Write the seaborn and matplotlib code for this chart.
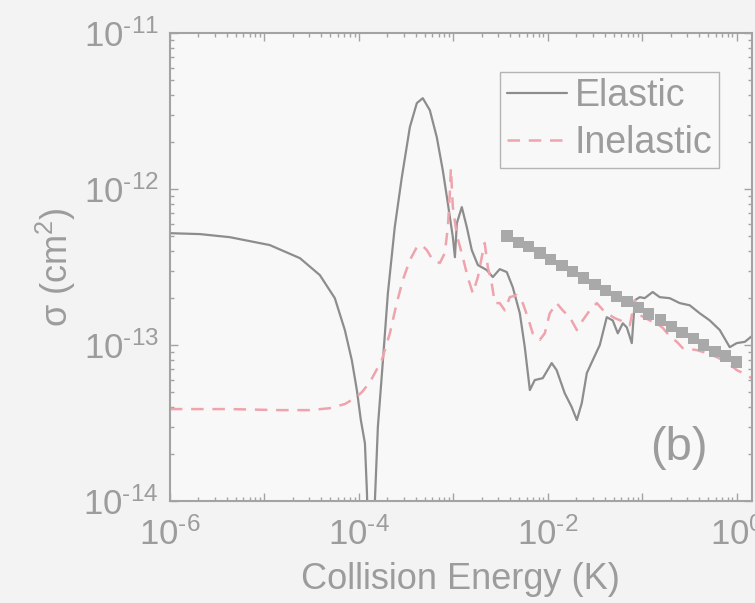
import numpy as np
import pandas as pd
import seaborn as sns
import matplotlib.pyplot as plt
import matplotlib.ticker as mticker

# elastic cross section
el_E = [1.0e-6, 2.08e-6, 4.31e-6, 1.14e-5, 2.38e-5, 3.87e-5, 5.57e-5, 7.11e-5, 8.43e-5,
        9.53e-5, 1.05e-4, 1.16e-4, 1.22e-4, 1.34e-4, 1.48e-4, 1.59e-4, 1.80e-4, 2.03e-4,
        2.40e-4, 2.85e-4, 3.47e-4, 4.11e-4, 4.75e-4, 5.64e-4, 6.69e-4, 7.74e-4, 8.75e-4,
        9.89e-4, 1.04e-3, 1.09e-3, 1.23e-3, 1.39e-3, 1.57e-3, 1.82e-3, 2.26e-3, 2.62e-3,
        3.10e-3, 3.68e-3, 4.26e-3, 5.06e-3, 5.71e-3, 6.46e-3, 7.28e-3, 8.85e-3, 1.10e-2,
        1.24e-2, 1.51e-2, 1.79e-2, 2.03e-2, 2.29e-2, 2.59e-2, 2.99e-2, 3.55e-2, 4.21e-2,
        4.87e-2, 5.51e-2, 6.22e-2, 6.86e-2, 7.75e-2, 8.34e-2, 9.42e-2, 0.106, 0.129,
        0.153, 0.195, 0.249, 0.318, 0.406, 0.518, 0.661, 0.843, 1.0, 1.22, 1.44]
el_sigma = [5.22e-13, 5.15e-13, 4.92e-13, 4.38e-13, 3.61e-13, 2.81e-13, 2.00e-13, 1.25e-13, 8.0e-14,
            5.15e-14, 3.31e-14, 2.35e-14, 1.12e-14, 1.0e-15, 1.01e-14, 2.98e-14, 8.0e-14, 2.15e-13,
            5.70e-13, 1.19e-12, 2.50e-12, 3.56e-12, 3.83e-12, 3.21e-12, 2.15e-12, 1.32e-12, 8.13e-13,
            4.92e-13, 3.66e-13, 6.05e-13, 7.67e-13, 5.70e-13, 4.06e-13, 3.26e-13, 3.03e-13, 2.73e-13,
            3.07e-13, 2.94e-13, 2.35e-13, 1.60e-13, 9.7e-14, 5.15e-14, 5.97e-14, 6.14e-14, 7.67e-14,
            6.92e-14, 4.92e-14, 4.01e-14, 3.31e-14, 4.25e-14, 6.62e-14, 8.0e-14, 1.0e-13, 1.51e-13,
            1.44e-13, 1.19e-13, 1.38e-13, 1.30e-13, 1.03e-13, 1.94e-13, 2.03e-13, 2.00e-13, 2.19e-13,
            2.03e-13, 2.00e-13, 1.86e-13, 1.80e-13, 1.60e-13, 1.44e-13, 1.25e-13, 9.7e-14, 1.03e-13,
            1.05e-13, 1.14e-13]

# inelastic cross section
inel_E = [1.0e-6, 4.31e-6, 1.46e-5, 3.03e-5, 4.93e-5, 7.11e-5, 9.08e-5, 1.08e-4, 1.31e-4,
          1.75e-4, 2.13e-4, 2.52e-4, 2.92e-4, 3.47e-4, 4.11e-4, 4.65e-4, 5.25e-4, 6.07e-4,
          7.20e-4, 8.13e-4, 8.75e-4, 9.19e-4, 9.42e-4, 9.89e-4, 1.09e-3, 1.26e-3, 1.42e-3,
          1.61e-3, 1.82e-3, 2.00e-3, 2.15e-3, 2.32e-3, 2.55e-3, 2.75e-3, 3.10e-3, 3.51e-3,
          3.96e-3, 4.70e-3, 5.43e-3, 6.14e-3, 6.93e-3, 8.22e-3, 9.29e-3, 1.05e-2, 1.24e-2,
          1.44e-2, 1.71e-2, 2.03e-2, 2.34e-2, 2.78e-2, 3.30e-2, 4.01e-2, 5.12e-2, 6.53e-2,
          7.38e-2, 8.34e-2, 9.42e-2, 0.120, 0.142, 0.165, 0.195, 0.232, 0.268, 0.378,
          0.482, 0.614, 0.784, 1.0, 1.22, 1.44]
inel_sigma = [3.89e-14, 3.89e-14, 3.83e-14, 3.83e-14, 3.94e-14, 4.19e-14, 4.57e-14, 5.0e-14, 5.79e-14,
              8.0e-14, 1.19e-13, 1.86e-13, 2.61e-13, 3.51e-13, 4.25e-13, 4.38e-13, 4.06e-13, 3.51e-13,
              3.36e-13, 3.89e-13, 5.70e-13, 9.42e-13, 1.36e-12, 7.67e-13, 5.07e-13, 3.66e-13, 2.73e-13,
              2.15e-13, 2.73e-13, 3.66e-13, 4.51e-13, 3.16e-13, 2.49e-13, 1.86e-13, 1.86e-13, 1.67e-13,
              2.03e-13, 2.09e-13, 1.86e-13, 1.51e-13, 1.19e-13, 1.08e-13, 1.19e-13, 1.60e-13, 1.86e-13,
              1.67e-13, 1.51e-13, 1.25e-13, 1.44e-13, 1.67e-13, 1.86e-13, 1.63e-13, 1.49e-13, 1.40e-13,
              1.34e-13, 1.94e-13, 1.56e-13, 1.44e-13, 1.38e-13, 1.29e-13, 1.14e-13, 1.05e-13, 9.57e-14,
              9.29e-14, 8.89e-14, 8.38e-14, 7.78e-14, 6.92e-14, 6.52e-14, 6.14e-14]

# grey squares (high energy reference line)
sq_E = [3.7e-3, 4.9e-3, 6.3e-3, 8.3e-3, 1.07e-2, 1.41e-2, 1.82e-2, 2.4e-2, 3.16e-2, 4.07e-2, 5.37e-2,
        6.9e-2, 9.1e-2, 0.117, 0.155, 0.204, 0.263, 0.347, 0.447, 0.589, 0.759, 1.0]
sq_sigma = [5.0e-13, 4.57e-13, 4.27e-13, 3.89e-13, 3.55e-13, 3.24e-13, 2.95e-13, 2.69e-13, 2.45e-13,
            2.24e-13, 2.04e-13, 1.91e-13, 1.74e-13, 1.58e-13, 1.45e-13, 1.32e-13, 1.2e-13, 1.1e-13,
            1.0e-13, 9.1e-14, 8.5e-14, 7.8e-14]

xtick_vals = [1e-6, 1e-5, 1e-4, 1e-3, 1e-2, 1e-1, 1e0]
xtick_labels = ["$\\mathdefault{10^{\\text{-}6}}$", "", "$\\mathdefault{10^{\\text{-}4}}$", "",
                "$\\mathdefault{10^{\\text{-}2}}$", "", "$\\mathdefault{10^{0}}$"]
ytick_vals = [1e-14, 1e-13, 1e-12, 1e-11]
ytick_labels = ["$\\mathdefault{10^{\\text{-}14}}$", "$\\mathdefault{10^{\\text{-}13}}$",
                "$\\mathdefault{10^{\\text{-}12}}$", "$\\mathdefault{10^{\\text{-}11}}$"]

sns.set_theme(style="ticks")
plt.rcParams['font.family'] = ['Liberation Sans', 'DejaVu Sans']
plt.rcParams['mathtext.default'] = 'regular'
plt.rcParams['mathtext.fontset'] = 'custom'
plt.rcParams['mathtext.rm'] = 'Liberation Sans'

grey_txt = "#9c9c9c"
grey_ax = "#a3a3a3"

el = pd.DataFrame({"E": el_E, "sigma": el_sigma})
inel = pd.DataFrame({"E": inel_E, "sigma": inel_sigma})
sq = pd.DataFrame({"E": sq_E, "sigma": sq_sigma})

fig = plt.figure(figsize=(7.55, 6.03), dpi=100, facecolor="#f3f3f3")
ax = fig.add_axes([0.225, 0.169, 0.771, 0.776])
ax.set_facecolor("#f8f8f8")

sns.lineplot(data=el, x="E", y="sigma", ax=ax, color="#8d8d8d", lw=1.6,
             estimator=None, sort=False, label="Elastic")
sns.lineplot(data=inel, x="E", y="sigma", ax=ax, color="#efa3ac", lw=1.8,
             estimator=None, sort=False, linestyle=(0, (5, 3.5)), label="Inelastic")
sns.scatterplot(data=sq, x="E", y="sigma", ax=ax, marker="s", s=66,
                color="#a9a9a9", edgecolor="none", zorder=5)

ax.set_xscale("log")
ax.set_yscale("log")
ax.set_xlim(1e-6, 1.45)
ax.set_ylim(1e-14, 1e-11)

ax.set_xticks(xtick_vals)
ax.set_xticklabels(xtick_labels)
ax.set_yticks(ytick_vals)
ax.set_yticklabels(ytick_labels)
ax.xaxis.set_minor_locator(mticker.LogLocator(base=10, subs=np.arange(2, 10), numticks=20))
ax.yaxis.set_minor_locator(mticker.LogLocator(base=10, subs=np.arange(2, 10), numticks=20))
ax.xaxis.set_minor_formatter(mticker.NullFormatter())
ax.yaxis.set_minor_formatter(mticker.NullFormatter())

ax.tick_params(which="both", direction="in", top=True, right=True, colors=grey_ax,
               labelcolor=grey_txt, labelsize=25, width=1.0)
ax.tick_params(axis="x", which="major", length=6, pad=12)
ax.tick_params(axis="y", which="major", length=6, pad=8)
ax.tick_params(which="minor", length=3)
for s in ax.spines.values():
    s.set_color(grey_ax)
    s.set_linewidth(1.5)

ax.set_xlabel("Collision Energy (K)", fontsize=26, color=grey_txt, labelpad=7)
ax.set_ylabel("σ (cm$^{2}$)", fontsize=26, color=grey_txt, labelpad=4)

ax.text(0.875, 0.113, "(b)", transform=ax.transAxes, fontsize=34, color=grey_txt,
        ha="center", va="center")

leg = ax.legend(loc="upper right", bbox_to_anchor=(0.943, 0.918), fontsize=27,
                frameon=True, fancybox=False, handlelength=1.6, handletextpad=0.2,
                borderpad=0.18, labelspacing=0.28, borderaxespad=0)
leg.get_frame().set_edgecolor(grey_ax)
leg.get_frame().set_facecolor("#f8f8f8")
leg.get_frame().set_linewidth(1.0)
for t in leg.get_texts():
    t.set_color(grey_txt)

fig.savefig("out.png", dpi=100, facecolor=fig.get_facecolor())
